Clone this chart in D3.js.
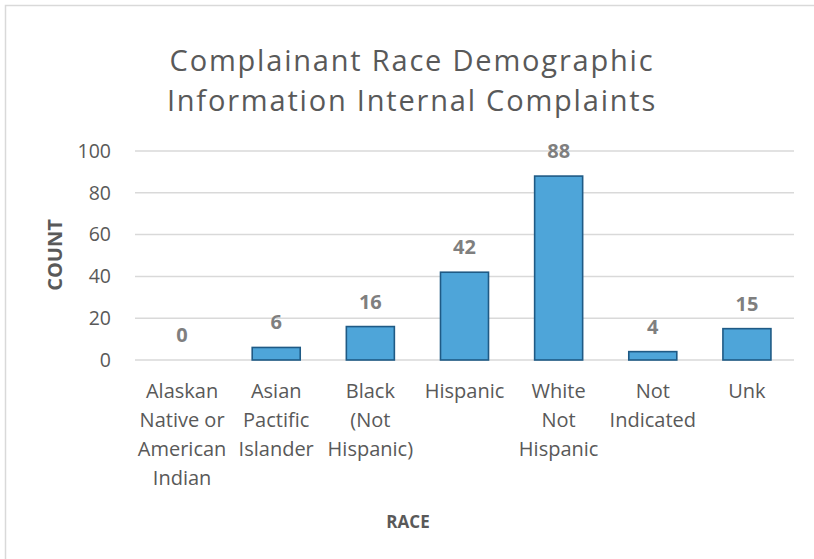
<!DOCTYPE html>
<html>
<head>
<meta charset="utf-8">
<script src="https://cdn.jsdelivr.net/npm/d3@7"></script>
<style>
  body { margin: 0; background: #fff; }
  svg { display: block; font-family: "Open Sans", sans-serif; }
</style>
</head>
<body>
<svg id="chart"></svg>
<script>
const categories = [
  ["Alaskan", "Native or", "American", "Indian"],
  ["Asian", "Pactific", "Islander"],
  ["Black", "(Not", "Hispanic)"],
  ["Hispanic"],
  ["White", "Not", "Hispanic"],
  ["Not", "Indicated"],
  ["Unk"]
]
const counts = [0, 6, 16, 42, 88, 4, 15]
const yTicks = [0, 20, 40, 60, 80, 100]
const titleLines = ["Complainant Race Demographic", "Information Internal Complaints"]

const width = 814
const height = 559
const plot = { left: 135, right: 794, top: 151, bottom: 360 }

const svg = d3.select('#chart')
  .attr('width', width)
  .attr('height', height)

// outer chart border (only top and left edges fall inside the picture)
svg.append('rect')
  .attr('x', 5.5).attr('y', 5.5)
  .attr('width', 900).attr('height', 600)
  .attr('fill', '#fff')
  .attr('stroke', '#d9d9d9')
  .attr('stroke-width', 1.5)

const xScale = d3.scaleBand()
  .domain(d3.range(categories.length))
  .range([plot.left, plot.right])
  .paddingInner(0.49)
  .paddingOuter(0.245)

const yScale = d3.scaleLinear()
  .domain([0, 100])
  .range([plot.bottom, plot.top])

// gridlines
svg.append('g')
  .selectAll('line')
  .data(yTicks)
  .enter()
  .append('line')
  .attr('x1', plot.left)
  .attr('x2', plot.right)
  .attr('y1', d => yScale(d))
  .attr('y2', d => yScale(d))
  .attr('stroke', '#d9d9d9')
  .attr('stroke-width', 1.5)

const yAxis = d3.axisLeft(yScale).tickValues(yTicks).tickSize(0).tickPadding(24)
const yG = svg.append('g')
  .attr('transform', `translate(${plot.left}, 0)`)
  .call(yAxis)
yG.select('.domain').remove()
yG.selectAll('text')
  .attr('fill', '#595959')
  .style('font-size', '19.5px')
  .style('font-family', '"Open Sans", sans-serif')

// bars
svg.append('g')
  .selectAll('rect')
  .data(counts)
  .enter()
  .append('rect')
  .attr('x', (d, i) => xScale(i))
  .attr('y', d => yScale(d))
  .attr('width', xScale.bandwidth())
  .attr('height', d => yScale(0) - yScale(d))
  .attr('fill', '#4ea5d9')
  .attr('stroke', '#1f5a85')
  .attr('stroke-width', d => d > 0 ? 1.6 : 0)

// value labels
svg.append('g')
  .selectAll('text')
  .data(counts)
  .enter()
  .append('text')
  .attr('x', (d, i) => xScale(i) + xScale.bandwidth() / 2)
  .attr('y', d => yScale(d) - 18)
  .attr('text-anchor', 'middle')
  .attr('fill', '#7f7f7f')
  .style('font-size', '20px')
  .style('font-weight', 'bold')
  .text(d => d)

// category labels
const catG = svg.append('g')
  .selectAll('text')
  .data(categories)
  .enter()
  .append('text')
  .attr('text-anchor', 'middle')
  .attr('fill', '#595959')
  .style('font-size', '20px')
catG.selectAll('tspan')
  .data((d, i) => d.map(line => ({ line, i })))
  .enter()
  .append('tspan')
  .attr('x', d => xScale(d.i) + xScale.bandwidth() / 2)
  .attr('y', (d, j) => 398 + j * 29)
  .text(d => d.line)

// title, two lines
svg.append('g')
  .selectAll('text')
  .data(titleLines)
  .enter()
  .append('text')
  .attr('x', 412)
  .attr('y', (d, i) => 71 + i * 39.5)
  .attr('text-anchor', 'middle')
  .attr('fill', '#595959')
  .style('font-size', '29px')
  .style('letter-spacing', '1.8px')
  .text(d => d)

// axis titles
svg.append('text')
  .attr('transform', 'translate(62, 255) rotate(-90)')
  .attr('text-anchor', 'middle')
  .attr('fill', '#595959')
  .style('font-size', '20px')
  .style('font-weight', 'bold')
  .text('COUNT')

svg.append('text')
  .attr('x', 408)
  .attr('y', 528)
  .attr('text-anchor', 'middle')
  .attr('fill', '#595959')
  .style('font-size', '17px')
  .style('font-weight', 'bold')
  .text('RACE')
</script>
</body>
</html>
